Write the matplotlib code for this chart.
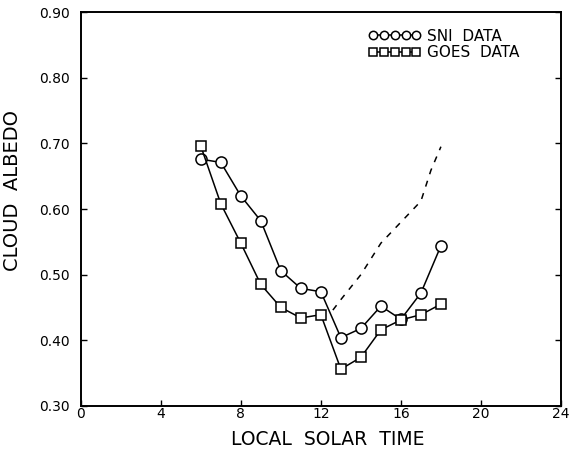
import matplotlib
matplotlib.use('Agg')
import matplotlib.pyplot as plt
from matplotlib.ticker import FormatStrFormatter

hours = [6, 7, 8, 9, 10, 11, 12, 13, 14, 15, 16, 17, 18]
sni = [0.676, 0.671, 0.620, 0.582, 0.506, 0.479, 0.474, 0.404, 0.418, 0.452, 0.432, 0.472, 0.544]
goes = [0.696, 0.608, 0.548, 0.485, 0.450, 0.434, 0.439, 0.356, 0.374, 0.416, 0.431, 0.439, 0.455]

dash_x = [12.6, 13.0, 14.0, 15.0, 16.0, 17.0, 17.5, 18.0]
dash_y = [0.446, 0.462, 0.500, 0.548, 0.580, 0.612, 0.659, 0.695]

xticks = [0, 4, 8, 12, 16, 20, 24]
yticks = [0.30, 0.40, 0.50, 0.60, 0.70, 0.80, 0.90]

fig = plt.figure(figsize=(5.7, 4.5), dpi=100)
ax = fig.add_axes([0.1416, 0.098, 0.8426, 0.875])

ax.plot(hours, sni, color='black', lw=1.1, marker='o', ms=8,
        mfc='white', mec='black', mew=1.1, label='SNI  DATA')
ax.plot(hours, goes, color='black', lw=1.1, marker='s', ms=7,
        mfc='white', mec='black', mew=1.1, label='GOES  DATA')
ax.plot(dash_x, dash_y, color='black', lw=1.1, linestyle=(0, (4, 4.5)))

ax.set_xlim(0, 24)
ax.set_ylim(0.30, 0.90)
ax.set_xticks(xticks)
ax.set_yticks(yticks)
ax.yaxis.set_major_formatter(FormatStrFormatter('%.2f'))
ax.tick_params(axis='both', direction='in', length=4, width=1, labelsize=10)
ax.tick_params(axis='x', pad=1)
ax.tick_params(axis='y', pad=8, right=True)
for s in ax.spines.values():
    s.set_linewidth(1.4)

ax.set_xlabel('LOCAL  SOLAR  TIME', fontsize=13.5)
ax.set_ylabel('CLOUD  ALBEDO', fontsize=14)
ax.xaxis.set_label_coords(0.514, -0.062)
ax.yaxis.set_label_coords(-0.122, 0.546)

ax.legend(loc='upper left', bbox_to_anchor=(0.6, 0.958), frameon=False,
          numpoints=5, markerscale=0.75, handlelength=3.4, handletextpad=0.4,
          labelspacing=0.1, borderpad=0, borderaxespad=0, fontsize=11)

fig.savefig('out.png', dpi=100)
